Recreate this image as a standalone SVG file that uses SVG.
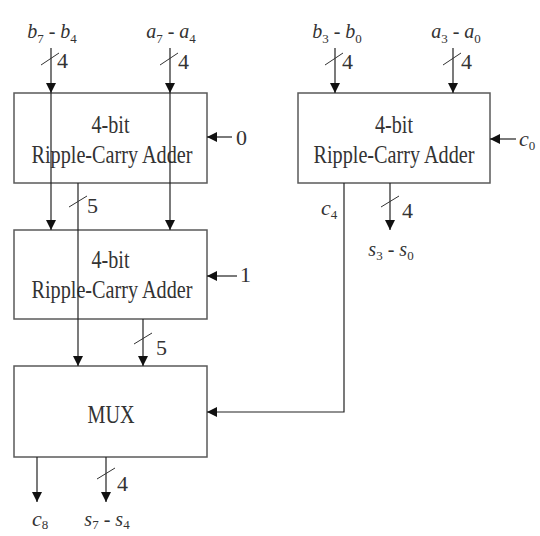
<svg xmlns="http://www.w3.org/2000/svg" width="540" height="536" viewBox="0 0 540 536">
<style>
.box{fill:none;stroke:#5a5a5a;stroke-width:1.5}
.w{stroke:#222;stroke-width:1.2;fill:none}
.s{stroke:#333;stroke-width:1}
text{font-family:"Liberation Serif","Times New Roman",serif;fill:#333;font-size:22px}
.bt{font-size:26px;text-anchor:middle}
.lb{font-size:20px;text-anchor:middle}
.i{font-style:italic}
.sub{font-size:13px}
</style>
<defs>
<marker id="ah" viewBox="0 0 10 10" refX="10" refY="5" markerWidth="10" markerHeight="10" markerUnits="userSpaceOnUse" orient="auto">
<path d="M0,0 L10,5 L0,10 Z" fill="#111"/>
</marker>
</defs>
<rect width="540" height="536" fill="#fff"/>

<g id="adder1">
<rect class="box" x="14" y="93" width="193" height="90"/>
<text class="bt" x="110.5" y="133" textLength="38" lengthAdjust="spacingAndGlyphs">4-bit</text>
<text class="bt" x="112" y="163" textLength="161" lengthAdjust="spacingAndGlyphs">Ripple-Carry Adder</text>
</g>
<g id="adder2">
<rect class="box" x="14" y="230" width="193" height="89"/>
<text class="bt" x="110.5" y="268" textLength="38" lengthAdjust="spacingAndGlyphs">4-bit</text>
<text class="bt" x="112" y="298" textLength="161" lengthAdjust="spacingAndGlyphs">Ripple-Carry Adder</text>
</g>
<g id="adder3">
<rect class="box" x="298" y="93" width="192" height="90"/>
<text class="bt" x="394" y="133" textLength="38" lengthAdjust="spacingAndGlyphs">4-bit</text>
<text class="bt" x="394" y="163" textLength="161" lengthAdjust="spacingAndGlyphs">Ripple-Carry Adder</text>
</g>
<g id="mux">
<rect class="box" x="14" y="366" width="193" height="91"/>
<text class="bt" x="111" y="423" textLength="47" lengthAdjust="spacingAndGlyphs">MUX</text>
</g>

<g id="labels">
<text class="lb" x="52" y="38"><tspan class="i">b</tspan><tspan class="sub" dy="5">7</tspan><tspan dy="-5"> - </tspan><tspan class="i">b</tspan><tspan class="sub" dy="5">4</tspan></text>
<text class="lb" x="171" y="38"><tspan class="i">a</tspan><tspan class="sub" dy="5">7</tspan><tspan dy="-5"> - </tspan><tspan class="i">a</tspan><tspan class="sub" dy="5">4</tspan></text>
<text class="lb" x="337" y="38"><tspan class="i">b</tspan><tspan class="sub" dy="5">3</tspan><tspan dy="-5"> - </tspan><tspan class="i">b</tspan><tspan class="sub" dy="5">0</tspan></text>
<text class="lb" x="456" y="38"><tspan class="i">a</tspan><tspan class="sub" dy="5">3</tspan><tspan dy="-5"> - </tspan><tspan class="i">a</tspan><tspan class="sub" dy="5">0</tspan></text>
<text x="236" y="145">0</text>
<text x="240" y="282">1</text>
<text x="519" y="146" font-size="24"><tspan class="i">c</tspan><tspan class="sub" dy="4">0</tspan></text>
<text x="321" y="215" font-size="24"><tspan class="i">c</tspan><tspan class="sub" dy="4">4</tspan></text>
<text class="lb" x="391" y="256"><tspan class="i">s</tspan><tspan class="sub" dy="4">3</tspan><tspan dy="-4"> - </tspan><tspan class="i">s</tspan><tspan class="sub" dy="4">0</tspan></text>
<text x="32" y="526" font-size="20"><tspan class="i">c</tspan><tspan class="sub" dy="3">8</tspan></text>
<text class="lb" x="107" y="526"><tspan class="i">s</tspan><tspan class="sub" dy="3">7</tspan><tspan dy="-3"> - </tspan><tspan class="i">s</tspan><tspan class="sub" dy="3">4</tspan></text>
<text x="57" y="68">4</text>
<text x="178" y="69">4</text>
<text x="342" y="69">4</text>
<text x="461" y="69">4</text>
<text x="87" y="213">5</text>
<text x="156" y="355">5</text>
<text x="402" y="218">4</text>
<text x="117" y="491">4</text>
</g>

<g id="connectors">
<line class="w" x1="51" y1="48" x2="51" y2="93" marker-end="url(#ah)"/>
<line class="w" x1="51" y1="93" x2="51" y2="230" marker-end="url(#ah)"/>
<line class="w" x1="170" y1="48" x2="170" y2="93" marker-end="url(#ah)"/>
<line class="w" x1="170" y1="93" x2="170" y2="230" marker-end="url(#ah)"/>
<line class="w" x1="335" y1="48" x2="335" y2="93" marker-end="url(#ah)"/>
<line class="w" x1="453" y1="48" x2="453" y2="93" marker-end="url(#ah)"/>
<line class="w" x1="232" y1="137" x2="207" y2="137" marker-end="url(#ah)"/>
<line class="w" x1="237" y1="276" x2="207" y2="276" marker-end="url(#ah)"/>
<line class="w" x1="516" y1="139" x2="490" y2="139" marker-end="url(#ah)"/>
<line class="w" x1="78" y1="183" x2="78" y2="366" marker-end="url(#ah)"/>
<line class="w" x1="143" y1="319" x2="143" y2="366" marker-end="url(#ah)"/>
<polyline class="w" points="344,183 344,412 207,412" marker-end="url(#ah)"/>
<line class="w" x1="390" y1="183" x2="390" y2="230" marker-end="url(#ah)"/>
<line class="w" x1="37" y1="457" x2="37" y2="502" marker-end="url(#ah)"/>
<line class="w" x1="106" y1="457" x2="106" y2="502" marker-end="url(#ah)"/>
<line class="s" x1="41" y1="65" x2="59" y2="53"/>
<line class="s" x1="160" y1="65" x2="178" y2="53"/>
<line class="s" x1="325" y1="65" x2="343" y2="53"/>
<line class="s" x1="443" y1="65" x2="461" y2="53"/>
<line class="s" x1="69" y1="207" x2="87" y2="196"/>
<line class="s" x1="134" y1="344" x2="152" y2="333"/>
<line class="s" x1="381" y1="207" x2="399" y2="196"/>
<line class="s" x1="97" y1="479" x2="115" y2="468"/>
</g>
</svg>
